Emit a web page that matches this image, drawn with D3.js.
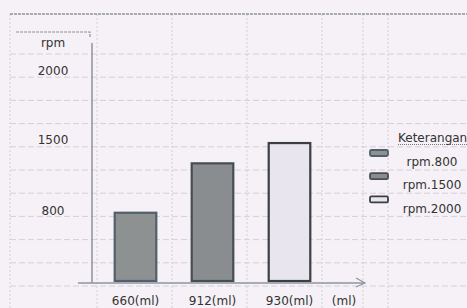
<!DOCTYPE html>
<html>
<head>
<meta charset="utf-8">
<script src="https://cdn.jsdelivr.net/npm/d3@7/dist/d3.min.js"></script>
<style>
  body { margin: 0; background: #f5f1f6; }
  svg { display: block; }
  text { font-family: "DejaVu Sans", sans-serif; fill: #333; }
</style>
</head>
<body>
<div id="chart"></div>
<script>
// bar chart of rpm per volume (ml)

var categories = ["660(ml)", "912(ml)", "930(ml)"];
var rpmValues = [770, 1260, 1460];
var tickValues = [800, 1500, 2000];
var legendLabels = ["rpm.800", "rpm.1500", "rpm.2000"];
var barFills = ["#8d9192", "#8a8d8f", "#e9e5ee"];
var barStrokes = ["#52606a", "#474e53", "#3b3f44"];

var width = 467, height = 308;

var svg = d3.select("#chart").append("svg")
    .attr("width", width)
    .attr("height", height);

// spreadsheet grid behind the chart
var gridRows = d3.range(54, 300, 23.2);
var gridCols = [10, 97, 172, 247, 322, 363, 388];

svg.selectAll(".hrow")
    .data(gridRows)
  .enter().append("line")
    .attr("class", "hrow")
    .attr("x1", 10).attr("x2", width)
    .attr("y1", d => d).attr("y2", d => d)
    .attr("stroke", "#d2d0d8")
    .attr("stroke-width", 1)
    .attr("stroke-dasharray", "6,3");

svg.selectAll(".vcol")
    .data(gridCols)
  .enter().append("line")
    .attr("class", "vcol")
    .attr("x1", d => d).attr("x2", d => d)
    .attr("y1", 14).attr("y2", height)
    .attr("stroke", "#d0ced8")
    .attr("stroke-width", 1)
    .attr("stroke-dasharray", "2,2");

svg.append("line")
    .attr("x1", 10).attr("x2", width)
    .attr("y1", 14).attr("y2", 14)
    .attr("stroke", "#8d929a")
    .attr("stroke-width", 1.3)
    .attr("stroke-dasharray", "3,1");

// rpm title box
svg.append("path")
    .attr("d", "M16,32H90V37")
    .attr("fill", "none")
    .attr("stroke", "#8d929a")
    .attr("stroke-width", 1.2)
    .attr("stroke-dasharray", "3,1");

svg.append("text")
    .attr("x", 53).attr("y", 47)
    .attr("text-anchor", "middle")
    .style("font-size", "12px")
    .text("rpm");

// scales
var x = d3.scaleBand()
    .domain(categories)
    .range([97, 328])
    .paddingInner(0.46)
    .paddingOuter(0.23);

var y = d3.scaleLinear()
    .domain([0, 800, 1500, 2000])
    .range([283, 210, 139, 70]);

// y axis line
svg.append("line")
    .attr("x1", 92).attr("x2", 92)
    .attr("y1", 43).attr("y2", 283)
    .attr("stroke", "#8e929c")
    .attr("stroke-width", 1.5);

var yAxis = d3.axisLeft(y).tickValues(tickValues).tickFormat(d3.format("d"))
    .tickSize(0).tickPadding(0);
var yg = svg.append("g")
    .attr("transform", "translate(53,0)")
    .call(yAxis);
yg.select(".domain").remove();
yg.selectAll("text")
    .attr("text-anchor", "middle")
    .attr("x", 0)
    .attr("dy", "0.35em")
    .style("font-size", "12px")
    .style("font-family", "DejaVu Sans, sans-serif")
    .attr("fill", "#333");

// bars
svg.selectAll(".bar")
    .data(rpmValues)
  .enter().append("rect")
    .attr("class", "bar")
    .attr("x", (d, i) => x(categories[i]))
    .attr("width", x.bandwidth())
    .attr("y", d => y(d))
    .attr("height", d => y(0) - 2 - y(d))
    .attr("fill", (d, i) => barFills[i])
    .attr("stroke", (d, i) => barStrokes[i])
    .attr("stroke-width", 2.2);

// x axis with arrow
svg.append("line")
    .attr("x1", 78).attr("x2", 365)
    .attr("y1", 283).attr("y2", 283)
    .attr("stroke", "#8e95a0")
    .attr("stroke-width", 1.5);
svg.append("path")
    .attr("d", "M356,278L365,283L356,287")
    .attr("fill", "none")
    .attr("stroke", "#8e95a0")
    .attr("stroke-width", 1.2);

var xAxis = d3.axisBottom(x).tickSize(0).tickPadding(0);
var xg = svg.append("g")
    .attr("transform", "translate(0,301)")
    .call(xAxis);
xg.select(".domain").remove();
xg.selectAll("text")
    .attr("dy", "0.35em")
    .style("font-size", "12px")
    .style("font-family", "DejaVu Sans, sans-serif")
    .attr("fill", "#333");

svg.append("text")
    .attr("x", 344).attr("y", 301)
    .attr("dy", "0.35em")
    .attr("text-anchor", "middle")
    .style("font-size", "12px")
    .text("(ml)");

// legend
svg.append("text")
    .attr("x", 398).attr("y", 142)
    .style("font-size", "12px")
    .text("Keterangan");
svg.append("line")
    .attr("x1", 398).attr("x2", width)
    .attr("y1", 144.5).attr("y2", 144.5)
    .attr("stroke", "#555")
    .attr("stroke-width", 0.8)
    .attr("stroke-dasharray", "1,1");

var legend = svg.selectAll(".legend")
    .data(legendLabels)
  .enter().append("g")
    .attr("class", "legend")
    .attr("transform", (d, i) => "translate(0," + (i * 23.2) + ")");

legend.append("rect")
    .attr("x", 370).attr("y", 150)
    .attr("width", 18).attr("height", 6)
    .attr("rx", 1.5)
    .attr("fill", (d, i) => barFills[i])
    .attr("stroke", (d, i) => barStrokes[i])
    .attr("stroke-width", 1.8);

legend.append("text")
    .attr("x", 432).attr("y", 162)
    .attr("dy", "0.35em")
    .attr("text-anchor", "middle")
    .style("font-size", "12px")
    .text(d => d);
</script>
</body>
</html>
